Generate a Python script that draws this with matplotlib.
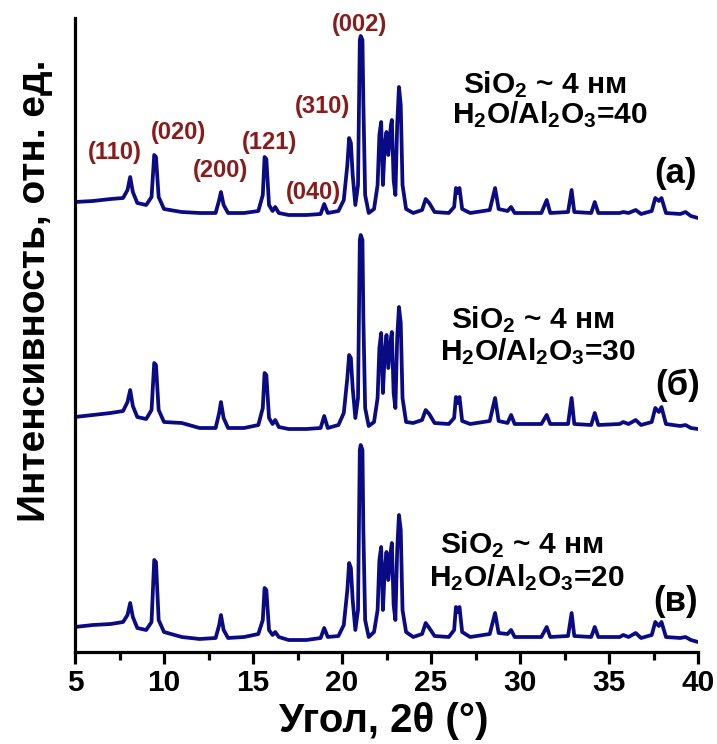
import matplotlib
matplotlib.use('Agg')
import matplotlib.pyplot as plt
from matplotlib.ticker import MultipleLocator

plt.rcParams['font.family'] = ['Liberation Sans', 'DejaVu Sans']
plt.rcParams['font.weight'] = 'bold'
plt.rcParams['mathtext.fontset'] = 'custom'
plt.rcParams['mathtext.rm'] = 'Liberation Sans:bold'
plt.rcParams['mathtext.default'] = 'regular'

# 2theta positions of the traced vertices (deg)
two_theta = [5.0, 6.0, 7.0, 7.7, 7.95, 8.1, 8.25, 8.5,
             9.0, 9.3, 9.45, 9.55, 9.7, 10.0,
             11.0, 12.0, 12.9, 13.1, 13.2, 13.35, 13.6, 14.5,
             15.3, 15.55, 15.65, 15.75, 15.9, 16.1, 16.25, 16.45, 17.0, 18.0, 18.8,
             19.0, 19.2, 19.8, 20.1, 20.3, 20.4, 20.5, 20.6, 20.75, 20.9, 21.0, 21.05, 21.15, 21.2, 21.3, 21.5, 21.8,
             22.0, 22.1, 22.2, 22.3, 22.4, 22.5, 22.6, 22.75, 22.8, 22.9, 23.0, 23.1, 23.2, 23.3, 23.4, 23.6,
             24.0, 24.5, 24.7, 24.9, 25.2, 26.0, 26.3, 26.4, 26.5, 26.6, 26.75, 27.2, 28.3, 28.6, 28.8, 29.3, 29.5, 29.7,
             31.2, 31.5, 31.7, 32.7, 32.9, 33.05, 34.0, 34.2, 34.4, 35.6, 35.8, 36.1, 36.5, 36.8, 37.4, 37.6, 37.8, 37.95, 38.2, 39.0, 39.3, 39.6, 40.0]

# intensities, arb. units (a) H2O/Al2O3=40
int_a = [23, 24, 26, 27, 35, 48, 33, 22,
         20, 28, 70, 68, 28, 16,
         13, 12, 12, 25, 33, 20, 12, 12,
         14, 30, 68, 66, 20, 14, 18, 12, 10, 10, 11,
         21, 12, 14, 25, 60, 87, 82, 50, 20, 40, 185, 189, 185, 122, 30, 12, 16,
         40, 90, 103, 40, 80, 93, 70, 100, 105, 45, 30, 100, 138, 120, 40, 16,
         12, 15, 26, 22, 13, 12, 18, 37, 32, 37, 16, 12, 15, 37, 16, 14, 18, 12,
         12, 25, 12, 13, 35, 13, 12, 23, 12, 12, 13, 12, 15, 11, 14, 27, 24, 27, 12, 11, 13, 9, 7]

# (б) H2O/Al2O3=30
int_b = [21, 23, 25, 27, 36, 48, 32, 21,
         19, 28, 75, 73, 28, 16,
         15, 10, 10, 25, 36, 20, 10, 10,
         13, 30, 65, 63, 20, 14, 18, 11, 9, 9, 10,
         22, 10, 13, 25, 60, 83, 80, 50, 20, 40, 198, 203, 198, 120, 30, 12, 16,
         40, 90, 105, 45, 85, 103, 70, 100, 106, 45, 30, 100, 131, 115, 40, 16,
         15, 18, 28, 24, 15, 14, 20, 41, 35, 41, 17, 14, 17, 40, 17, 15, 23, 14,
         14, 23, 14, 14, 40, 14, 13, 25, 13, 14, 16, 14, 18, 13, 16, 30, 26, 31, 14, 12, 13, 10, 9]

# (в) H2O/Al2O3=20
int_v = [23, 25, 26, 28, 35, 47, 33, 22,
         20, 28, 90, 88, 30, 18,
         13, 11, 12, 25, 35, 20, 12, 13,
         16, 30, 62, 60, 20, 15, 18, 13, 10, 10, 12,
         22, 13, 14, 25, 60, 87, 82, 50, 20, 40, 200, 205, 200, 120, 30, 13, 18,
         40, 90, 103, 40, 80, 98, 70, 100, 107, 45, 30, 100, 135, 120, 40, 18,
         13, 16, 27, 22, 14, 13, 20, 43, 38, 43, 18, 13, 16, 37, 17, 16, 20, 13,
         13, 23, 13, 14, 37, 14, 13, 23, 13, 13, 15, 13, 17, 12, 15, 28, 24, 28, 13, 12, 13, 10, 8]

patterns = [int_a, int_b, int_v]
offsets = [427, 214, 2]
sample_tags = ['(a)', '(б)', '(в)']
ratios = [40, 30, 20]

hkl_labels = ['(110)', '(020)', '(200)', '(121)', '(040)', '(310)', '(002)']
hkl_x = [7.25, 10.8, 13.15, 15.95, 18.4, 18.9, 21.0]
hkl_y = [499, 519, 482, 510, 460, 545, 627]

fig = plt.figure(figsize=(7.17, 7.44), dpi=100)
ax = fig.add_axes([75/717, 1-652/744, 623/717, 634/744])

for ints, off in zip(patterns, offsets):
    ax.plot(two_theta, [v + off for v in ints], color='#0a0a85', lw=2.7)

ax.set_xlim(5, 40)
ax.set_ylim(0, 634)
ax.spines['top'].set_visible(False)
ax.spines['right'].set_visible(False)
ax.spines['left'].set_linewidth(2.3)
ax.spines['bottom'].set_linewidth(2.3)
ax.set_yticks([])
ax.xaxis.set_major_locator(MultipleLocator(5))
ax.xaxis.set_minor_locator(MultipleLocator(2.5))
ax.tick_params(axis='x', which='major', direction='out', length=8.5, width=2.3,
               labelsize=21.5, pad=4)
ax.tick_params(axis='x', which='minor', direction='out', length=5.5, width=2.3)
for lab in ax.get_xticklabels():
    lab.set_fontweight('bold')

# hkl reflections on the top pattern
for t, x, y in zip(hkl_labels, hkl_x, hkl_y):
    ax.text(x, y, t, color='#8b1a1a', fontsize=17, ha='center', va='center')

# sample descriptions
desc_pos = [(545, 85, 115, 676, 173), (533, 320, 352, 678, 385), (522, 545, 578, 676, 602)]
for (cx, y1, y2, tx, ty), tag, r in zip(desc_pos, sample_tags, ratios):
    fig.text(cx/717, 1-y1/744, r'SiO$_\mathregular{2}$ ~ 4 нм', fontsize=21.5, ha='center', va='center')
    fig.text((cx+5)/717, 1-y2/744, r'H$_\mathregular{2}$O/Al$_\mathregular{2}$O$_\mathregular{3}$=' + str(r),
             fontsize=21.5, ha='center', va='center')
    fig.text(tx/717, 1-ty/744, tag, fontsize=25, ha='center', va='center')

fig.text(384/717, 1-721/744, 'Угол, 2θ (°)', fontsize=29, ha='center', va='center')
fig.text(35/717, 1-291/744, 'Интенсивность, отн. ед.', fontsize=28, rotation=90,
         ha='center', va='center')

fig.savefig('out.png', dpi=100)
